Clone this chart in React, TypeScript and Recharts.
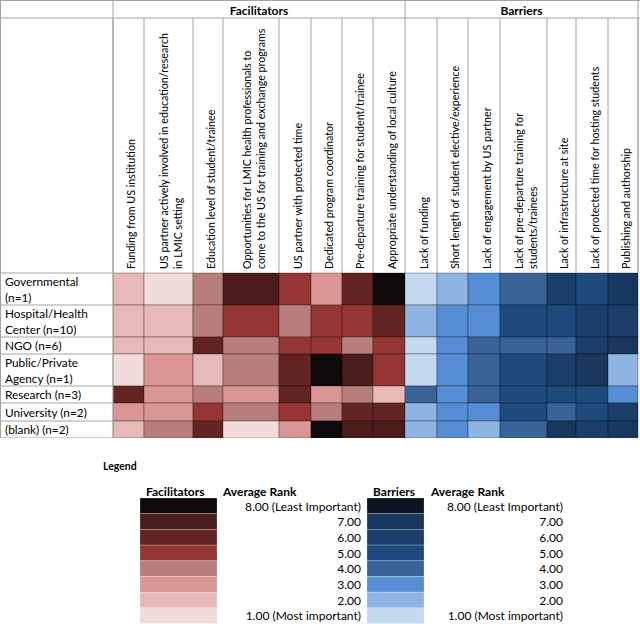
import { ScatterChart, Scatter, XAxis, YAxis } from 'recharts';

const FACILITATORS = [
  'Funding from US institution',
  'US partner actively involved in education/research in LMIC setting',
  'Education level of student/trainee',
  'Opportunities for LMIC health professionals to come to the US for training and exchange programs',
  'US partner with protected time',
  'Dedicated program coordinator',
  'Pre-departure training for student/trainee',
  'Appropriate understanding of local culture',
];

const BARRIERS = [
  'Lack of funding',
  'Short length of student elective/experience',
  'Lack of engagement by US partner',
  'Lack of pre-departure training for students/trainees',
  'Lack of infrastructure at site',
  'Lack of protected time for hosting students',
  'Publishing and authorship',
];

const GROUPS = [
  'Governmental (n=1)',
  'Hospital/Health Center (n=10)',
  'NGO (n=6)',
  'Public/Private Agency (n=1)',
  'Research (n=3)',
  'University (n=2)',
  '(blank) (n=2)',
];

// average rank per group, one row per entry of GROUPS
const FAC_RANKS = [
  [2, 1, 4, 7, 5, 3, 6, 8],
  [2, 2, 4, 5, 4, 5, 5, 6],
  [2, 2, 6, 4, 5, 5, 4, 5],
  [1, 3, 2, 4, 6, 8, 7, 5],
  [6, 3, 4, 3, 6, 3, 4, 2],
  [3, 3, 5, 4, 5, 4, 6, 6],
  [2, 4, 6, 1, 3, 8, 7, 7],
];

const BAR_RANKS = [
  [1, 2, 3, 4, 6, 5, 7],
  [2, 3, 3, 5, 5, 6, 6],
  [1, 3, 4, 4, 4, 6, 7],
  [1, 3, 4, 5, 6, 7, 2],
  [4, 3, 4, 5, 5, 5, 3],
  [2, 3, 3, 5, 4, 5, 6],
  [2, 3, 2, 4, 7, 6, 7],
];

const LEGEND_LABELS = ['8.00 (Least Important)', '7.00', '6.00', '5.00', '4.00', '3.00', '2.00', '1.00 (Most important)'];

const FAC_COLORS = ['#f2dcdb', '#e6b9b8', '#da9694', '#b77e7d', '#963634', '#632523', '#4a1c1b', '#100909'];
const BAR_COLORS = ['#c5d9f1', '#8db4e2', '#558ed5', '#3a6398', '#1f4a7d', '#1c3e6b', '#17375d', '#0d1522'];

// table layout
const COL_W = [31, 49, 30, 56, 32, 31, 31, 32, 32, 31, 32, 47, 29, 32, 30];
const ROW_H = [32, 32, 17, 32, 17, 18, 17];
const LABEL_W = 113;
const TOP_ROW = 18;
const HEAD_H = 255;
const PLOT_TOP = TOP_ROW + HEAD_H;
const TOTAL_W = COL_W.reduce((a, b) => a + b, 0);
const TOTAL_H = ROW_H.reduce((a, b) => a + b, 0);
const FONT = 'Lato, "Open Sans", sans-serif';
const GRID = '#a3a3a3';

const wrap = (text: string, max: number) => {
  const lines: string[] = [];
  let cur = '';
  text.split(' ').forEach((w) => {
    const next = cur ? cur + ' ' + w : w;
    if (next.length > max && cur) {
      lines.push(cur);
      cur = w;
    } else {
      cur = next;
    }
  });
  if (cur) lines.push(cur);
  return lines;
};

const starts = (sizes: number[]) => sizes.map((_, i) => sizes.slice(0, i).reduce((a, b) => a + b, 0));
const colStart = starts(COL_W);
const rowStart = starts(ROW_H);
const colCenter = COL_W.map((w, i) => colStart[i] + w / 2);
const rowCenter = ROW_H.map((h, i) => rowStart[i] + h / 2);

const columns = [...FACILITATORS, ...BARRIERS];

const cells = GROUPS.flatMap((_, r) => [
  ...FAC_RANKS[r].map((rank, c) => ({
    x: colCenter[c],
    y: rowCenter[r],
    w: COL_W[c],
    h: ROW_H[r],
    rank,
    fill: FAC_COLORS[Math.round(rank) - 1],
  })),
  ...BAR_RANKS[r].map((rank, c) => ({
    x: colCenter[c + FACILITATORS.length],
    y: rowCenter[r],
    w: COL_W[c + FACILITATORS.length],
    h: ROW_H[r],
    rank,
    fill: BAR_COLORS[Math.round(rank) - 1],
  })),
]);

const HeatCell = (props: any) => {
  const { cx, cy } = props;
  const p = props.payload ?? props;
  return (
    <rect
      x={cx - p.w / 2}
      y={cy - p.h / 2}
      width={p.w}
      height={p.h}
      fill={p.fill}
      stroke="rgba(0,0,0,0.3)"
      strokeWidth={1}
    />
  );
};

const HeaderTick = (props: any) => {
  const { x, payload } = props;
  const i = colCenter.findIndex((c) => Math.abs(c - payload.value) < 0.01);
  if (i < 0) return null;
  const lines = wrap(columns[i], 50);
  const w = COL_W[i];
  return (
    <g>
      {i === 0 && <line x1={x - w / 2} x2={x - w / 2} y1={TOP_ROW} y2={PLOT_TOP} stroke={GRID} />}
      <line x1={x + w / 2} x2={x + w / 2} y1={TOP_ROW} y2={PLOT_TOP} stroke={GRID} />
      {lines.map((ln, k) => {
        const tx = x + 2 + (k - (lines.length - 1) / 2) * 14;
        return (
          <text
            key={k}
            x={tx}
            y={PLOT_TOP - 4}
            transform={`rotate(-90 ${tx} ${PLOT_TOP - 4})`}
            textAnchor="start"
            dominantBaseline="central"
            fontFamily={FONT}
            fontSize={10.7}
            fill="#000"
          >
            {ln}
          </text>
        );
      })}
    </g>
  );
};

const RowTick = (props: any) => {
  const { y, payload } = props;
  const i = rowCenter.findIndex((c) => Math.abs(c - payload.value) < 0.01);
  if (i < 0) return null;
  const lines = wrap(GROUPS[i], 16);
  const bottom = y + ROW_H[i] / 2;
  return (
    <g>
      <line x1={0} x2={LABEL_W} y1={bottom} y2={bottom} stroke={GRID} />
      {lines.map((ln, k) => (
        <text
          key={k}
          x={5}
          y={y + (k - (lines.length - 1) / 2) * 16}
          dominantBaseline="central"
          fontFamily={FONT}
          fontSize={11.8}
          fill="#000"
        >
          {ln}
        </text>
      ))}
    </g>
  );
};

const LegendBlock = ({ left, boxW, title, colors, titleX, rankX, labelX }: any) => {
  const top = 498;
  const step = 15.7;
  return (
    <g fontFamily={FONT}>
      <text x={titleX} y={491} fontSize={12} fontWeight="bold" dominantBaseline="central">{title}</text>
      <text x={rankX} y={491} fontSize={12} fontWeight="bold" dominantBaseline="central">Average Rank</text>
      {LEGEND_LABELS.map((lbl, i) => (
        <g key={lbl}>
          <rect
            x={left}
            y={top + i * step}
            width={boxW}
            height={step}
            fill={colors[colors.length - 1 - i]}
            stroke="rgba(255,255,255,0.35)"
            strokeWidth={0.6}
          />
          <text x={labelX} y={top + 8 + i * step} fontSize={12} textAnchor="end" dominantBaseline="central">
            {lbl}
          </text>
        </g>
      ))}
    </g>
  );
};

export default function App() {
  return (
    <div style={{ position: 'absolute', left: 0, top: 0, width: 640, height: 624, background: '#fff', fontFamily: FONT }}>
      <ScatterChart
        width={LABEL_W + TOTAL_W + 2}
        height={PLOT_TOP + TOTAL_H}
        margin={{ top: TOP_ROW, right: 2, bottom: 0, left: 0 }}
      >
        <XAxis
          type="number"
          dataKey="x"
          orientation="top"
          domain={[0, TOTAL_W]}
          ticks={colCenter}
          interval={0}
          height={HEAD_H}
          axisLine={false}
          tickLine={false}
          tickSize={0}
          tick={<HeaderTick />}
        />
        <YAxis
          type="number"
          dataKey="y"
          reversed
          domain={[0, TOTAL_H]}
          ticks={rowCenter}
          interval={0}
          width={LABEL_W}
          axisLine={false}
          tickLine={false}
          tickSize={0}
          tick={<RowTick />}
        />
        <Scatter data={cells} shape={<HeatCell />} isAnimationActive={false} />
      </ScatterChart>
      <svg
        width={640}
        height={624}
        style={{ position: 'absolute', left: 0, top: 0, pointerEvents: 'none' }}
      >
        <line x1={0} x2={640} y1={0.5} y2={0.5} stroke={GRID} />
        <line x1={0} x2={640} y1={TOP_ROW} y2={TOP_ROW} stroke={GRID} />
        <line x1={0.5} x2={0.5} y1={0} y2={PLOT_TOP + TOTAL_H} stroke={GRID} />
        <line x1={LABEL_W} x2={LABEL_W} y1={0} y2={PLOT_TOP + TOTAL_H} stroke={GRID} />
        <line
          x1={LABEL_W + colStart[FACILITATORS.length]}
          x2={LABEL_W + colStart[FACILITATORS.length]}
          y1={0}
          y2={TOP_ROW}
          stroke={GRID}
        />
        <line x1={LABEL_W + TOTAL_W} x2={LABEL_W + TOTAL_W} y1={0} y2={PLOT_TOP} stroke={GRID} />
        <line x1={0} x2={LABEL_W} y1={PLOT_TOP} y2={PLOT_TOP} stroke={GRID} />
        <text
          x={LABEL_W + colStart[FACILITATORS.length] / 2}
          y={10}
          textAnchor="middle"
          dominantBaseline="central"
          fontFamily={FONT}
          fontWeight="bold"
          fontSize={12}
        >
          Facilitators
        </text>
        <text
          x={LABEL_W + (colStart[FACILITATORS.length] + TOTAL_W) / 2}
          y={10}
          textAnchor="middle"
          dominantBaseline="central"
          fontFamily={FONT}
          fontWeight="bold"
          fontSize={12}
        >
          Barriers
        </text>
        <text x={103} y={466} fontFamily={FONT} fontWeight="bold" fontSize={10.5} dominantBaseline="central">
          Legend
        </text>
        <LegendBlock left={140} boxW={77} title="Facilitators" colors={FAC_COLORS} titleX={146} rankX={223} labelX={361} />
        <LegendBlock left={367} boxW={57} title="Barriers" colors={BAR_COLORS} titleX={373} rankX={431} labelX={563} />
      </svg>
    </div>
  );
}
